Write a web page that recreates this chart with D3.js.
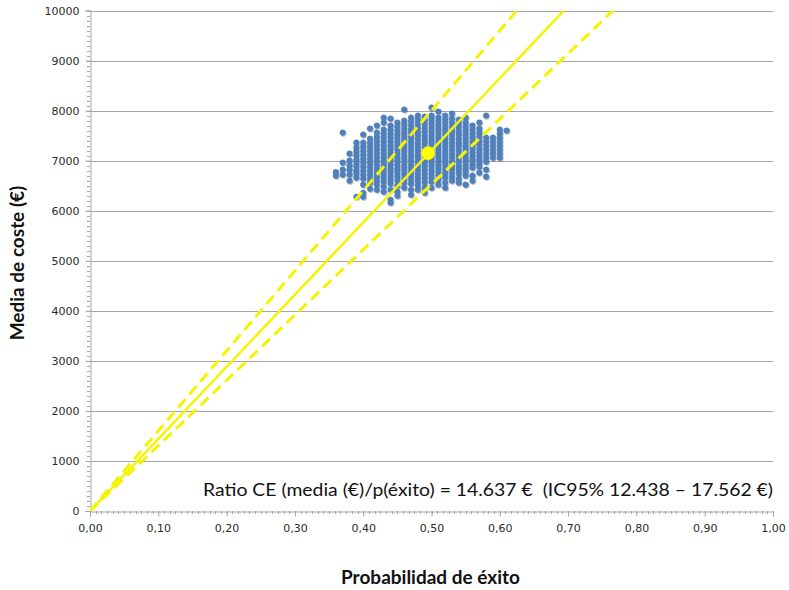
<!DOCTYPE html>
<html>
<head>
<meta charset="utf-8">
<script src="https://cdn.jsdelivr.net/npm/d3@7"></script>
<style>
  body { margin: 0; background: #fff; }
  svg { display: block; }
  .tick text { font-family: "DejaVu Sans", Verdana, sans-serif; font-size: 11px; fill: #2a2a2a; }
</style>
</head>
<body>
<div id="chart"></div>
<script>
"use strict";

// probability columns (p of success) of the bootstrap cloud
var probs = [0.36, 0.37, 0.38, 0.39, 0.40, 0.41, 0.42, 0.43, 0.44, 0.45, 0.46, 0.47, 0.48,
  0.49, 0.50, 0.51, 0.52, 0.53, 0.54, 0.55, 0.56, 0.57, 0.58, 0.59, 0.60, 0.61];

// mean cost (€) of each bootstrap replicate, one list per probability column
var costs = [
  [6770, 6700],
  [7560, 6960, 6820, 6720],
  [7140, 7000, 6900, 6820, 6720, 6600],
  [7360, 7260, 7180, 7100, 7020, 6940, 6880, 6800, 6740, 6660, 6280],
  [7520, 7360, 7280, 7200, 7120, 7040, 6960, 6880, 6800, 6720, 6640, 6520, 6360, 6280],
  [7640, 7440, 7360, 7280, 7200, 7120, 7040, 6960, 6880, 6800, 6720, 6640, 6560, 6440],
  [7700, 7560, 7480, 7400, 7320, 7240, 7160, 7080, 7000, 6920, 6840, 6760, 6680, 6600, 6520, 6420],
  [7860, 7760, 7620, 7540, 7460, 7380, 7300, 7220, 7140, 7060, 6980, 6900, 6820, 6740, 6660, 6580, 6480, 6380],
  [7840, 7700, 7620, 7540, 7470, 7390, 7310, 7240, 7160, 7080, 7010, 6930, 6850, 6780, 6700, 6620, 6540, 6420, 6220, 6160],
  [7760, 7680, 7600, 7520, 7450, 7370, 7290, 7220, 7140, 7060, 6990, 6910, 6830, 6760, 6680, 6600, 6500, 6380, 6300],
  [8020, 7800, 7720, 7640, 7560, 7490, 7410, 7330, 7260, 7180, 7100, 7030, 6950, 6870, 6800, 6720, 6640, 6560, 6460],
  [7860, 7780, 7700, 7620, 7550, 7470, 7390, 7320, 7240, 7160, 7090, 7010, 6930, 6860, 6780, 6700, 6620, 6540, 6420, 6320],
  [7900, 7820, 7740, 7660, 7580, 7510, 7430, 7350, 7280, 7200, 7120, 7050, 6970, 6890, 6820, 6740, 6660, 6580, 6500, 6420],
  [7880, 7800, 7720, 7640, 7570, 7490, 7410, 7340, 7260, 7180, 7110, 7030, 6950, 6880, 6800, 6720, 6640, 6560, 6460, 6360],
  [8060, 7900, 7820, 7740, 7660, 7590, 7510, 7430, 7360, 7280, 7200, 7130, 7050, 6970, 6900, 6820, 6740, 6660, 6580, 6460],
  [7980, 7860, 7780, 7700, 7620, 7550, 7470, 7390, 7320, 7240, 7160, 7090, 7010, 6930, 6860, 6780, 6700, 6620, 6520],
  [7900, 7820, 7740, 7660, 7590, 7510, 7430, 7360, 7280, 7200, 7130, 7050, 6970, 6900, 6820, 6740, 6660, 6560, 6460],
  [7940, 7840, 7760, 7680, 7600, 7530, 7450, 7370, 7300, 7220, 7140, 7070, 6990, 6910, 6840, 6760, 6680, 6600],
  [7820, 7740, 7660, 7580, 7510, 7430, 7350, 7280, 7200, 7120, 7050, 6970, 6890, 6820, 6740, 6640, 6560],
  [7860, 7760, 7680, 7600, 7520, 7450, 7370, 7290, 7220, 7140, 7060, 6990, 6910, 6840, 6780, 6700, 6520],
  [7700, 7620, 7540, 7470, 7390, 7310, 7240, 7160, 7080, 7010, 6930, 6860, 6700, 6600],
  [7760, 7640, 7560, 7480, 7400, 7330, 7250, 7170, 7100, 7020, 6940, 6880, 6760],
  [7900, 7460, 7380, 7300, 7220, 7140, 7060, 6980, 6820, 6680],
  [7460, 7380, 7300, 7220, 7140, 7060],
  [7620, 7540, 7460, 7380, 7300, 7220, 7140, 7060],
  [7600]
];

// point estimate (mean p, mean cost)
var meanPoint = { p: 0.495, cost: 7150 };

// CE ratio lines through the origin: p reached at cost 10000
var ratioNames = ['ic-high', 'ratio', 'ic-low'];
var ratioEndP = [0.625, 0.694, 0.766];

var xTicks = [0, 0.1, 0.2, 0.3, 0.4, 0.5, 0.6, 0.7, 0.8, 0.9, 1.0];
var yTicks = [0, 1000, 2000, 3000, 4000, 5000, 6000, 7000, 8000, 9000, 10000];

var ratioLabel = 'Ratio CE (media (\u20ac)/p(\u00e9xito) = 14.637 \u20ac\u00a0 (IC95% 12.438 \u2013 17.562 \u20ac)';
var xTitle = 'Probabilidad de \u00e9xito';
var yTitle = 'Media de coste (\u20ac)';

var width = 789, height = 590;
var margin = { top: 10.5, right: 16, bottom: 79, left: 90 };

var svg = d3.select('#chart').append('svg')
  .attr('width', width)
  .attr('height', height);

var x = d3.scaleLinear().domain([0, 1]).range([margin.left, width - margin.right]);
var y = d3.scaleLinear().domain([0, 10000]).range([height - margin.bottom, margin.top]);

// soft shadow for the markers
var defs = svg.append('defs');
var shadow = defs.append('filter').attr('id', 'shadow')
  .attr('x', '-50%').attr('y', '-50%').attr('width', '200%').attr('height', '200%');
shadow.append('feDropShadow')
  .attr('dx', 0.8).attr('dy', 1).attr('stdDeviation', 0.7)
  .attr('flood-color', '#000').attr('flood-opacity', 0.3);

defs.append('clipPath').attr('id', 'plot')
  .append('rect')
  .attr('x', x(0)).attr('y', y(10000))
  .attr('width', x(1) - x(0)).attr('height', y(0) - y(10000));

// horizontal gridlines
svg.append('g')
  .selectAll('line')
  .data(yTicks.slice(1))
  .enter()
  .append('line')
  .attr('x1', x(0)).attr('x2', x(1))
  .attr('y1', d => Math.round(y(d)) + 0.5).attr('y2', d => Math.round(y(d)) + 0.5)
  .attr('stroke', '#a6a6a6')
  .attr('stroke-width', 1);

// minor ticks
var yMinor = d3.range(0, 10001, 100);
svg.append('g')
  .selectAll('line')
  .data(yMinor)
  .enter()
  .append('line')
  .attr('x1', x(0) - 3).attr('x2', x(0))
  .attr('y1', d => Math.round(y(d)) + 0.5).attr('y2', d => Math.round(y(d)) + 0.5)
  .attr('stroke', '#a6a6a6');

var xMinor = d3.range(0, 121).map(i => i / 120);
svg.append('g')
  .selectAll('line')
  .data(xMinor)
  .enter()
  .append('line')
  .attr('x1', d => Math.round(x(d)) + 0.5).attr('x2', d => Math.round(x(d)) + 0.5)
  .attr('y1', y(0)).attr('y2', y(0) + 3)
  .attr('stroke', '#a6a6a6');

// axes
svg.append('g')
  .attr('transform', 'translate(' + (x(0) + 0.5) + ',0)')
  .call(d3.axisLeft(y).tickValues(yTicks).tickSize(5).tickPadding(6).tickFormat(d3.format('d')));

var comma = d3.formatLocale({ decimal: ',', thousands: '.', grouping: [3], currency: ['', '\u20ac'] });
svg.append('g')
  .attr('transform', 'translate(0,' + (Math.round(y(0)) + 0.5) + ')')
  .call(d3.axisBottom(x).tickValues(xTicks).tickSize(5).tickPadding(8).tickFormat(comma.format('.2f')));

svg.selectAll('.domain').attr('stroke', '#a6a6a6');
svg.selectAll('.tick line').attr('stroke', '#a6a6a6');

// bootstrap cloud
var cloud = [];
probs.forEach(function(p, i) {
  costs[i].forEach(function(c) { cloud.push({ p: p, cost: c }); });
});

svg.append('g')
  .attr('filter', 'url(#shadow)')
  .selectAll('circle')
  .data(cloud)
  .enter()
  .append('circle')
  .attr('cx', d => x(d.p))
  .attr('cy', d => y(d.cost))
  .attr('r', 2.8)
  .attr('fill', '#4f81bd')
  .attr('stroke', '#4677b6')
  .attr('stroke-width', 0.5);

// ratio lines
var lines = ratioNames.map((n, i) => ({ name: n, pts: [[0, 0], [ratioEndP[i], 10000]] }));
var lineGen = d3.line().x(d => x(d[0])).y(d => y(d[1]));

svg.append('g')
  .attr('clip-path', 'url(#plot)')
  .selectAll('path')
  .data(lines)
  .enter()
  .append('path')
  .attr('d', d => lineGen(d.pts))
  .attr('fill', 'none')
  .attr('stroke', '#f4f400')
  .attr('stroke-width', d => d.name == 'ratio' ? 2.5 : 3)
  .attr('stroke-dasharray', d => d.name == 'ratio' ? null : '11,6');

svg.append('circle')
  .attr('cx', x(meanPoint.p))
  .attr('cy', y(meanPoint.cost))
  .attr('r', 6.5)
  .attr('fill', '#ffff00')
  .attr('stroke', '#f2f200');

// annotation
svg.append('text')
  .attr('x', x(1))
  .attr('y', 496)
  .attr('text-anchor', 'end')
  .attr('font-family', 'Lato, "Open Sans", sans-serif')
  .attr('font-size', 18)
  .attr('fill', '#111')
  .attr('textLength', 570)
  .attr('lengthAdjust', 'spacingAndGlyphs')
  .text(ratioLabel);

// axis titles
svg.append('text')
  .attr('x', (x(0) + x(1)) / 2 - 1)
  .attr('y', 584)
  .attr('text-anchor', 'middle')
  .attr('font-family', 'Lato, "Open Sans", sans-serif')
  .attr('font-weight', 'bold')
  .attr('font-size', 19)
  .attr('fill', '#111')
  .text(xTitle);

svg.append('text')
  .attr('transform', 'translate(24,' + 263 + ') rotate(-90)')
  .attr('text-anchor', 'middle')
  .attr('font-family', 'Lato, "Open Sans", sans-serif')
  .attr('font-weight', 'bold')
  .attr('font-size', 19)
  .attr('fill', '#111')
  .text(yTitle);
</script>
</body>
</html>
